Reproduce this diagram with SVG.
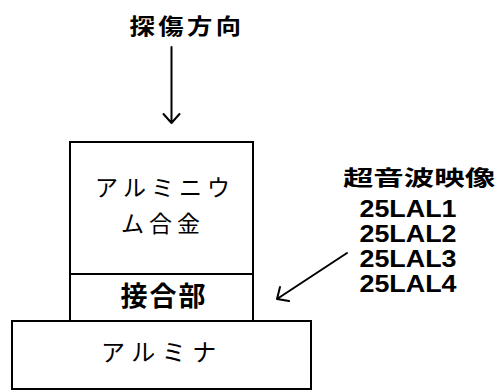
<svg xmlns="http://www.w3.org/2000/svg" width="500" height="390" viewBox="0 0 500 390">
<defs>
<style>
.box{fill:#fff;stroke:#000;stroke-width:2}
.jp{font-family:"Noto Sans CJK JP","Noto Sans",sans-serif;fill:#000}
.b{font-weight:bold}
.lat{font-family:"Liberation Sans",Arial,sans-serif;font-weight:bold;fill:#000}
.ln{fill:none;stroke:#000;stroke-width:2;stroke-linecap:round;stroke-linejoin:round}
</style>
</defs>
<rect width="500" height="390" fill="#fff"/>
<g id="title">
<text class="jp b" transform="translate(187,34) scale(1.15,1)" x="0" y="0" font-size="22" letter-spacing="3" text-anchor="middle">探傷方向</text>
</g>
<g id="alloy">
<rect class="box" x="70" y="142" width="183" height="132"/>
<text class="jp" x="165" y="196" font-size="23" letter-spacing="5" text-anchor="middle">アルミニウ</text>
<text class="jp" x="163" y="232" font-size="23" letter-spacing="5" text-anchor="middle">ム合金</text>
</g>
<g id="joint">
<rect class="box" x="70" y="274" width="183" height="47"/>
<text class="jp b" x="164" y="306" font-size="27" letter-spacing="2" text-anchor="middle">接合部</text>
</g>
<g id="alumina">
<rect class="box" x="12" y="321" width="299" height="68"/>
<text class="jp" x="162" y="361" font-size="24" letter-spacing="6.5" text-anchor="middle">アルミナ</text>
</g>
<g id="label">
<text class="jp b" transform="translate(419,185) scale(1.45,1)" x="0" y="0" font-size="21" text-anchor="middle">超音波映像</text>
<text class="lat" x="408" y="217" font-size="24" text-anchor="middle" textLength="97" lengthAdjust="spacingAndGlyphs">25LAL1</text>
<text class="lat" x="408" y="242" font-size="24" text-anchor="middle" textLength="97" lengthAdjust="spacingAndGlyphs">25LAL2</text>
<text class="lat" x="408" y="267" font-size="24" text-anchor="middle" textLength="97" lengthAdjust="spacingAndGlyphs">25LAL3</text>
<text class="lat" x="408" y="292" font-size="24" text-anchor="middle" textLength="97" lengthAdjust="spacingAndGlyphs">25LAL4</text>
</g>
<g id="connectors">
<path class="ln" d="M171.5 47 V123 M163.5 114 L171.5 123 L179.5 114"/>
<path class="ln" d="M347 253 L277 299 M280 287 L277 299 L289 301"/>
</g>
</svg>
